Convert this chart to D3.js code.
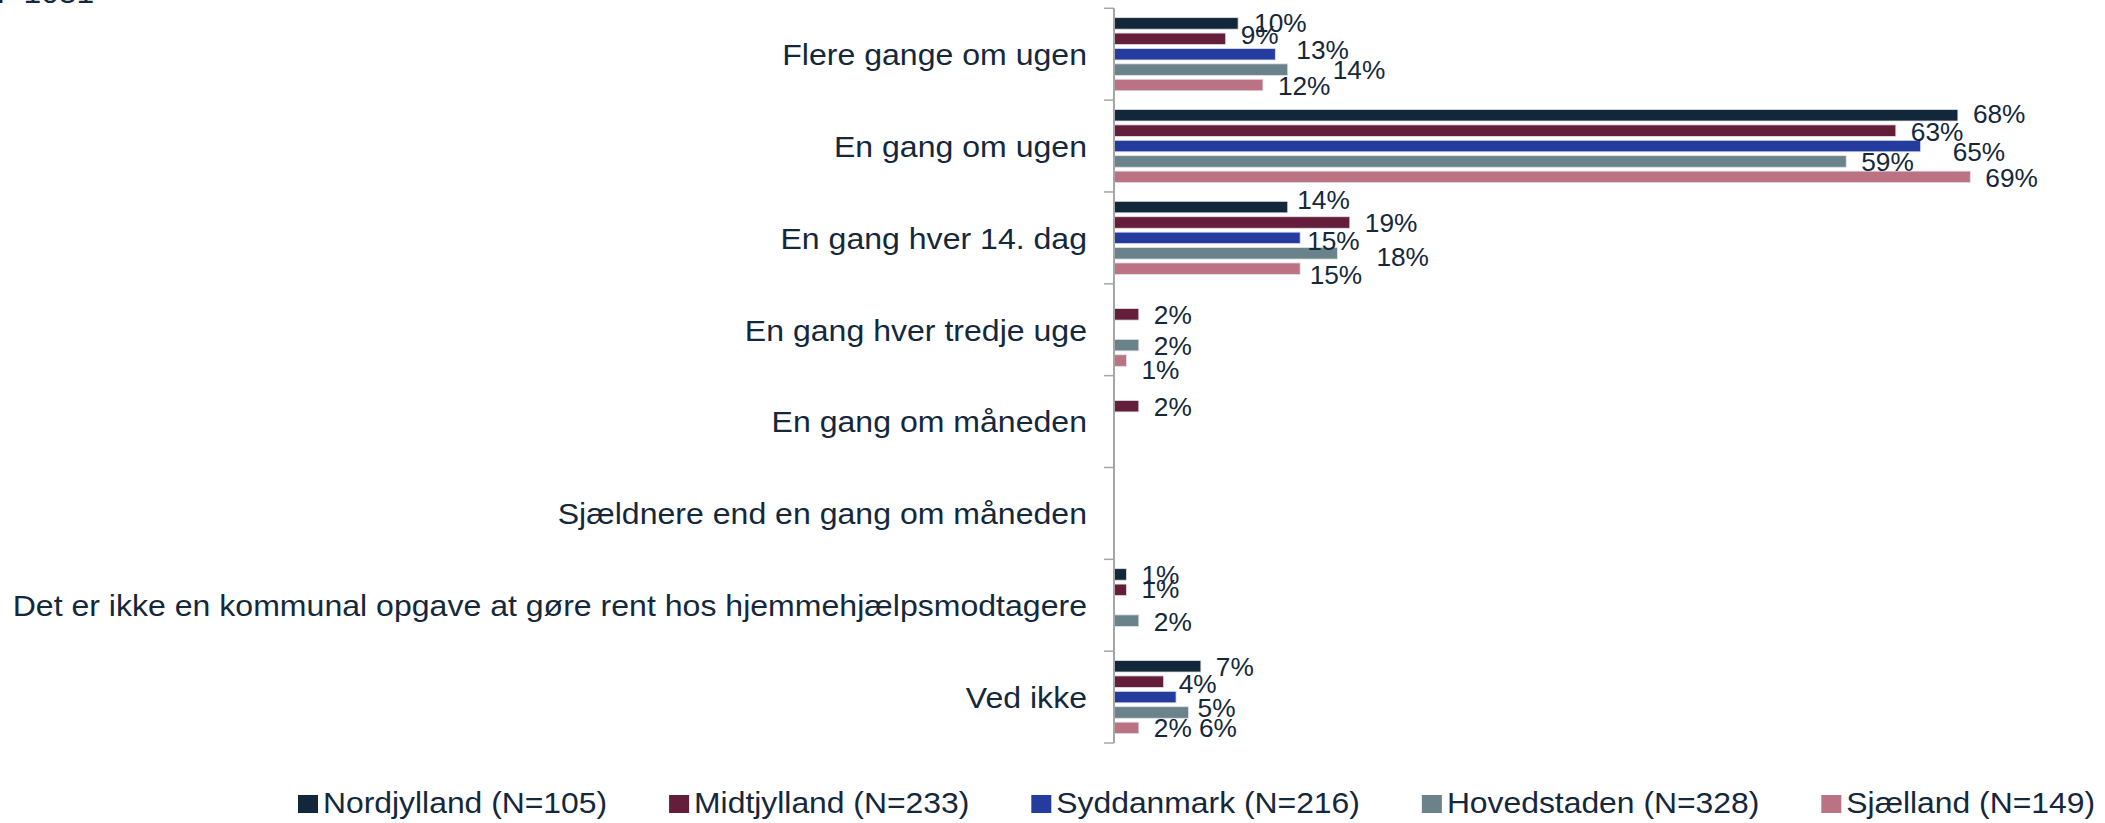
<!DOCTYPE html>
<html>
<head>
<meta charset="utf-8">
<script src="https://cdn.jsdelivr.net/npm/d3@7"></script>
<style>
  html, body { margin: 0; padding: 0; background: #ffffff; }
  svg { display: block; }
  text { font-family: "Liberation Sans", Arial, sans-serif; fill: #15283b; }
</style>
</head>
<body>
<svg id="chart" width="2105" height="823"></svg>
<script>
// Answer categories (top to bottom)
const categories = [
  "Flere gange om ugen",
  "En gang om ugen",
  "En gang hver 14. dag",
  "En gang hver tredje uge",
  "En gang om måneden",
  "Sjældnere end en gang om måneden",
  "Det er ikke en kommunal opgave at gøre rent hos hjemmehjælpsmodtagere",
  "Ved ikke"
];

// Regions (legend labels)
const seriesNames = [
  "Nordjylland (N=105)",
  "Midtjylland (N=233)",
  "Syddanmark (N=216)",
  "Hovedstaden (N=328)",
  "Sjælland (N=149)"
];

// Percentages per region, in category order (null = no answer / no bar)
const nordjylland = [10, 68, 14, null, null, null, 1, 7];
const midtjylland = [9, 63, 19, 2, 2, null, 1, 4];
const syddanmark  = [13, 65, 15, null, null, null, null, 5];
const hovedstaden = [14, 59, 18, 2, null, null, 2, 6];
const sjaelland   = [12, 69, 15, 1, null, null, null, 2];

const seriesValues = [nordjylland, midtjylland, syddanmark, hovedstaden, sjaelland];
const seriesColors = ["#13273b", "#641e3a", "#253c9f", "#6a838b", "#bb7282"];

// Header note (partly above the drawing area)
const baseNote = "N=1051";

// Small hand nudges for crowded value labels: "category|series" -> [dx, dy]
const labelNudge = {
  "0|0": [1, -1.5], "0|1": [0, -4.5], "0|2": [6, -5.5], "0|3": [30, -0.5],
  "1|0": [0, -2.5], "1|1": [0, 0.5], "1|2": [17, 5], "1|4": [0, 0.5],
  "2|0": [-5.5, -8], "2|2": [-8, 2], "2|3": [24, 3], "2|4": [-5.5, 5],
  "3|4": [0, 8],
  "6|1": [0, -2],
  "7|1": [0, 1], "7|2": [6.5, 10], "7|3": [-4.5, 14.5], "7|4": [0, -1]
};

const svg = d3.select("#chart");

// Layout
const axisX = 1114;
const plotTop = 8.3, plotBottom = 743;

const x = d3.scaleLinear().domain([0, 80]).range([axisX, axisX + 80 * 12.41]);
const y0 = d3.scaleBand().domain(d3.range(categories.length)).range([plotTop, plotBottom]).padding(0);
const y1 = d3.scaleBand().domain(d3.range(seriesNames.length)).range([0, y0.bandwidth()])
  .paddingInner(0.253).paddingOuter(0.607).align(0.5);

// Helper: text with horizontal stretch
function stretchedText(g, str, tx, ty, size, sx, anchor) {
  return g.append("text")
    .attr("transform", `translate(${tx},${ty}) scale(${sx},1)`)
    .attr("text-anchor", anchor || "start")
    .style("font-size", size + "px")
    .text(str);
}

// Header note
stretchedText(svg, baseNote, -18, 3, 30, 1.06, "start");

// Bars
const rows = [];
categories.forEach((c, ci) => {
  seriesValues.forEach((vals, si) => {
    const v = vals[ci];
    if (v !== null && v !== undefined) rows.push({ ci, si, v });
  });
});

const barG = svg.append("g");
barG.selectAll("rect").data(rows).join("rect")
  .attr("x", x(0))
  .attr("y", d => y0(d.ci) + y1(d.si))
  .attr("width", d => x(d.v) - x(0))
  .attr("height", y1.bandwidth())
  .attr("fill", d => seriesColors[d.si])
  .attr("stroke", "#dfe0ea")
  .attr("stroke-width", 0.8);

// Vertical axis with ticks at category boundaries
const axisG = svg.append("g");
axisG.append("line")
  .attr("x1", axisX).attr("x2", axisX)
  .attr("y1", plotTop).attr("y2", plotBottom)
  .attr("stroke", "#a6a6a6").attr("stroke-width", 2);
const boundaries = d3.range(categories.length).map(i => y0(i)).concat([plotBottom]);
axisG.selectAll("line.tick").data(boundaries).join("line")
  .attr("class", "tick")
  .attr("x1", axisX - 10).attr("x2", axisX)
  .attr("y1", d => d).attr("y2", d => d)
  .attr("stroke", "#a6a6a6").attr("stroke-width", 1.5);

// Category labels
const catG = svg.append("g");
categories.forEach((c, ci) => {
  const cy = y0(ci) + y0.bandwidth() / 2;
  stretchedText(catG, c, axisX - 27, cy + 10.8, 30.3, 1.058, "end");
});

// Value labels
const labG = svg.append("g");
rows.forEach(d => {
  const n = labelNudge[d.ci + "|" + d.si] || [0, 0];
  const cy = y0(d.ci) + y1(d.si) + y1.bandwidth() / 2;
  stretchedText(labG, d.v + "%", x(d.v) + 15 + n[0], cy + 10 + n[1], 25.5, 1.03, "start");
});

// Legend
const legG = svg.append("g");
let lx = 298;
const legBaseline = 813;
seriesNames.forEach((name, si) => {
  legG.append("rect")
    .attr("x", lx).attr("y", legBaseline - 18)
    .attr("width", 20).attr("height", 18)
    .attr("fill", seriesColors[si]);
  const t = stretchedText(legG, name, lx + 25, legBaseline, 29.5, 1.08, "start");
  const w = t.node().getComputedTextLength() * 1.08;
  lx = lx + 25 + w + 62;
});
</script>
</body>
</html>
